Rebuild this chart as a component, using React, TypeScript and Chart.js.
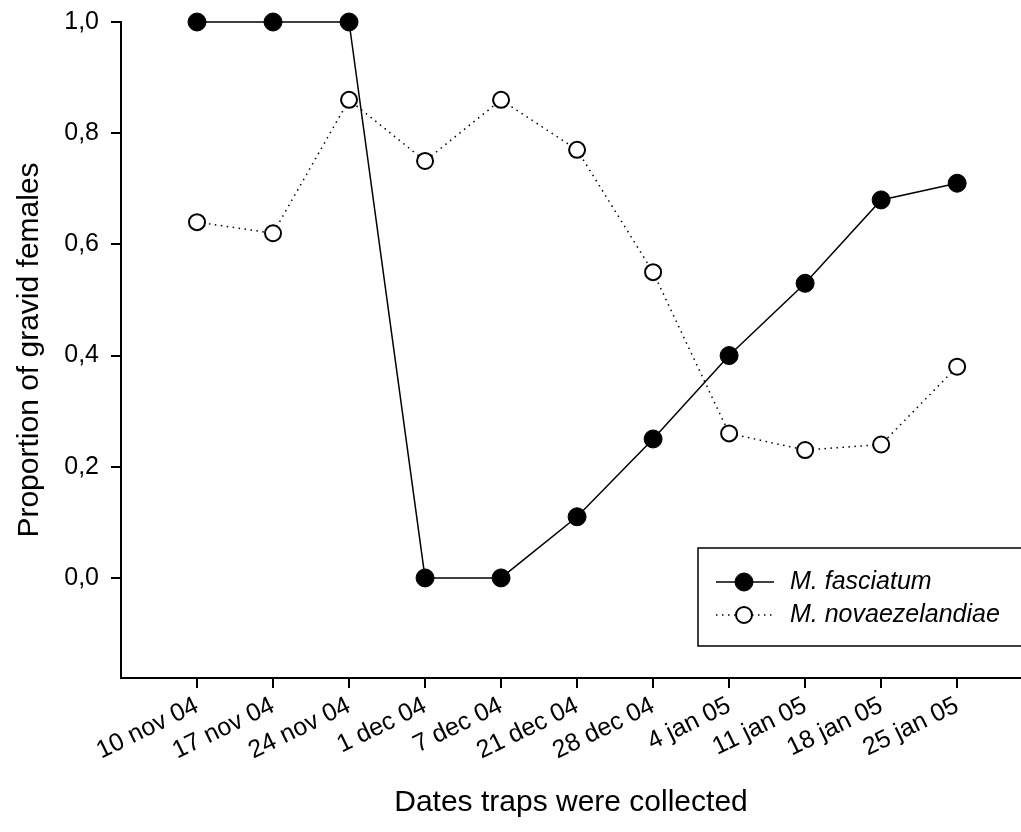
import React, { useEffect, useRef } from "react";
import { Chart, registerables } from "chart.js";

Chart.register(...registerables);

const categories = [
  "10 nov 04", "17 nov 04", "24 nov 04", "1 dec 04", "7 dec 04", "21 dec 04",
  "28 dec 04", "4 jan 05", "11 jan 05", "18 jan 05", "25 jan 05",
];
const fasciatum = [1.0, 1.0, 1.0, 0.0, 0.0, 0.11, 0.25, 0.40, 0.53, 0.68, 0.71];
const novaezelandiae = [0.64, 0.62, 0.86, 0.75, 0.86, 0.77, 0.55, 0.26, 0.23, 0.24, 0.38];
const yTicks = [0, 0.2, 0.4, 0.6, 0.8, 1.0];
const seriesNames = ["M. fasciatum", "M. novaezelandiae"];

const FONT = "'Liberation Sans', Arial, Helvetica, sans-serif";

const boxLegend = {
  id: "boxLegend",
  afterDraw(chart: any) {
    const ctx = chart.ctx as CanvasRenderingContext2D;
    const area = chart.chartArea;
    const left = area.right - 323;
    const top = area.bottom - 130;
    ctx.save();
    ctx.strokeStyle = "#000";
    ctx.lineWidth = 1.5;
    ctx.strokeRect(left, top, 400, 98);
    chart.data.datasets.forEach((ds: any, i: number) => {
      const y = top + 34 + i * 33;
      ctx.save();
      ctx.strokeStyle = ds.borderColor;
      ctx.lineWidth = ds.borderWidth;
      ctx.setLineDash(ds.borderDash || []);
      ctx.beginPath();
      ctx.moveTo(left + 18, y);
      ctx.lineTo(left + 76, y);
      ctx.stroke();
      ctx.restore();
      ctx.beginPath();
      ctx.arc(left + 46, y, ds.pointRadius, 0, Math.PI * 2);
      ctx.fillStyle = ds.pointBackgroundColor;
      ctx.fill();
      ctx.lineWidth = ds.pointBorderWidth;
      ctx.strokeStyle = ds.pointBorderColor;
      ctx.stroke();
      ctx.fillStyle = "#000";
      ctx.font = `italic 25px ${FONT}`;
      ctx.textAlign = "left";
      ctx.textBaseline = "middle";
      ctx.fillText(ds.label, left + 92, y);
    });
    ctx.restore();
  },
};

export default function App() {
  const ref = useRef<HTMLCanvasElement | null>(null);

  useEffect(() => {
    if (!ref.current) return;
    const toPts = (arr: number[]) => arr.map((v, i) => ({ x: i, y: v }));
    const chart = new Chart(ref.current, {
      type: "line",
      data: {
        datasets: [
          {
            label: seriesNames[0],
            data: toPts(fasciatum),
            borderColor: "#000",
            borderWidth: 1.5,
            pointRadius: 9,
            pointBackgroundColor: "#000",
            pointBorderColor: "#000",
            pointBorderWidth: 1,
            fill: false,
            tension: 0,
            clip: false as any,
          },
          {
            label: seriesNames[1],
            data: toPts(novaezelandiae),
            borderColor: "#000",
            borderWidth: 1.5,
            borderDash: [1.5, 4.5],
            pointRadius: 8,
            pointBackgroundColor: "#fff",
            pointBorderColor: "#000",
            pointBorderWidth: 2,
            fill: false,
            tension: 0,
            clip: false as any,
          },
        ],
      },
      options: {
        responsive: false,
        animation: false,
        devicePixelRatio: 1,
        layout: { padding: { top: 22, right: 0, bottom: 0, left: 0 }, autoPadding: false } as any,
        plugins: {
          legend: { display: false },
          tooltip: { enabled: false },
        },
        scales: {
          x: {
            type: "linear",
            min: -1,
            max: 10.84,
            afterBuildTicks: (s: any) => {
              s.ticks = categories.map((_, i) => ({ value: i }));
            },
            afterFit: (s: any) => {
              s.height = 154;
              s.paddingLeft = 0;
              s.paddingRight = 0;
            },
            grid: {
              display: true,
              drawOnChartArea: false,
              drawTicks: true,
              tickLength: 10,
              color: "#000",
              lineWidth: 2,
            },
            border: { display: true, color: "#000", width: 2 },
            ticks: {
              autoSkip: false,
              minRotation: 26,
              maxRotation: 26,
              padding: 3,
              color: "#000",
              font: { family: FONT, size: 25 },
              callback: (v: any) => categories[v as number] ?? "",
            },
            title: {
              display: true,
              text: "Dates traps were collected",
              color: "#000",
              font: { family: FONT, size: 30 },
              padding: { top: 0, bottom: 11 },
            },
          },
          y: {
            type: "linear",
            min: -0.18,
            max: 1.0,
            afterBuildTicks: (s: any) => {
              s.ticks = yTicks.map((v) => ({ value: v }));
            },
            afterFit: (s: any) => {
              s.width = 121;
              s.paddingTop = 0;
              s.paddingBottom = 0;
            },
            grid: {
              display: true,
              drawOnChartArea: false,
              drawTicks: true,
              tickLength: 10,
              color: "#000",
              lineWidth: 2,
            },
            border: { display: true, color: "#000", width: 2 },
            ticks: {
              padding: 12,
              color: "#000",
              font: { family: FONT, size: 25 },
              callback: (v: any) => Number(v).toFixed(1).replace(".", ","),
            },
            title: {
              display: true,
              text: "Proportion of gravid females",
              color: "#000",
              font: { family: FONT, size: 30 },
              padding: { top: 12, bottom: 0 },
            },
          },
        },
      },
      plugins: [boxLegend],
    });
    return () => chart.destroy();
  }, []);

  return (
    <div style={{ position: "absolute", left: 0, top: 0, width: 1021, height: 832, background: "#fff" }}>
      <canvas ref={ref} width={1021} height={832} style={{ display: "block" }} />
    </div>
  );
}
